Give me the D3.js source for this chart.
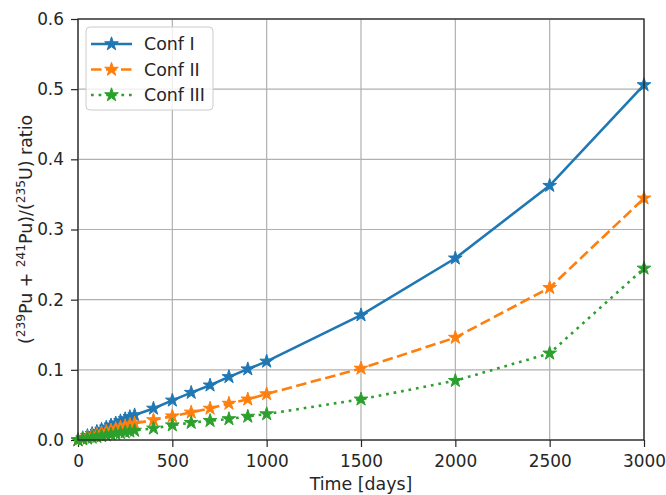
<!DOCTYPE html>
<html>
<head>
<meta charset="utf-8">
<script src="https://cdn.jsdelivr.net/npm/d3@7"></script>
<style>
  html, body { margin: 0; padding: 0; background: #fff; }
  svg text { font-family: "DejaVu Sans", sans-serif; fill: #262626; }
</style>
</head>
<body>
<svg id="chart" width="666" height="495"></svg>
<script>
// Irradiation time steps (days)
const days = [0, 25, 50, 75, 100, 125, 150, 175, 200, 225, 250, 275, 300,
              400, 500, 600, 700, 800, 900, 1000, 1500, 2000, 2500, 3000];

// (Pu-239 + Pu-241) / U-235 ratio per configuration
const confI = [0, 0.003, 0.006, 0.009, 0.012, 0.015, 0.018, 0.021, 0.024, 0.027, 0.030, 0.033, 0.0355,
               0.045, 0.0565, 0.0675, 0.078, 0.090, 0.101, 0.112, 0.178, 0.259, 0.3625, 0.506];
const confII = [0, 0.002, 0.004, 0.006, 0.008, 0.010, 0.012, 0.014, 0.016, 0.018, 0.020, 0.022, 0.0237,
                0.0285, 0.034, 0.0394, 0.045, 0.052, 0.058, 0.0655, 0.102, 0.146, 0.217, 0.3445];
const confIII = [0, 0.0012, 0.0024, 0.0036, 0.0047, 0.0058, 0.0069, 0.008, 0.0091, 0.0102, 0.0113, 0.0124, 0.0135,
                 0.0166, 0.0212, 0.0247, 0.0275, 0.030, 0.0335, 0.037, 0.058, 0.0845, 0.1235, 0.2446];

const seriesNames = ["Conf I", "Conf II", "Conf III"];
const xTicks = [0, 500, 1000, 1500, 2000, 2500, 3000];
const yTicks = [0.0, 0.1, 0.2, 0.3, 0.4, 0.5, 0.6];

const series = [
  { name: seriesNames[0], values: confI,   color: "#1f77b4", dash: null },
  { name: seriesNames[1], values: confII,  color: "#ff7f0e", dash: "10.5,4.5" },
  { name: seriesNames[2], values: confIII, color: "#2ca02c", dash: "2.7,4.9" }
];

const tickFont = 16.9;
const labelFont = 17.4;
const lineWidth = 2.6;

const svg = d3.select("#chart");
const m = { left: 78, right: 644, top: 19, bottom: 440 };

const x = d3.scaleLinear().domain([0, 3000]).range([m.left, m.right]);
const y = d3.scaleLinear().domain([0, 0.6]).range([m.bottom, m.top]);

// grid
const grid = svg.append("g");
grid.selectAll("line.gx").data(xTicks).join("line")
  .attr("x1", d => x(d)).attr("x2", d => x(d))
  .attr("y1", m.top).attr("y2", m.bottom)
  .attr("stroke", "#b0b0b0").attr("stroke-width", 1.2);
grid.selectAll("line.gy").data(yTicks).join("line")
  .attr("y1", d => y(d)).attr("y2", d => y(d))
  .attr("x1", m.left).attr("x2", m.right)
  .attr("stroke", "#b0b0b0").attr("stroke-width", 1.2);

// axes
const xAxis = d3.axisBottom(x).tickValues(xTicks).tickFormat(d3.format("d")).tickSizeOuter(0).tickSize(7).tickPadding(8);
const yAxis = d3.axisLeft(y).tickValues(yTicks).tickFormat(d3.format(".1f")).tickSizeOuter(0).tickSize(7).tickPadding(7);

const gx = svg.append("g").attr("transform", `translate(0,${m.bottom})`).call(xAxis);
const gy = svg.append("g").attr("transform", `translate(${m.left},0)`).call(yAxis);
[gx, gy].forEach(g => {
  g.select(".domain").remove();
  g.selectAll(".tick line").attr("stroke", "#262626").attr("stroke-width", 1.2);
  g.selectAll(".tick text").attr("font-size", tickFont).attr("font-family", "DejaVu Sans").attr("fill", "#262626");
});

// lines and star markers
const line = d3.line().x((d, i) => x(days[i])).y(d => y(d));
const star = d3.symbol().type(d3.symbolStar).size(58);

const plot = svg.append("g");
series.forEach(s => {
  plot.append("path")
    .attr("d", line(s.values))
    .attr("fill", "none")
    .attr("stroke", s.color)
    .attr("stroke-width", lineWidth)
    .attr("stroke-dasharray", s.dash);
  plot.append("g").selectAll("path").data(s.values).join("path")
    .attr("transform", (d, i) => `translate(${x(days[i])},${y(d)})`)
    .attr("d", star)
    .attr("fill", s.color)
    .attr("stroke", s.color)
    .attr("stroke-width", 1);
});

// frame
svg.append("rect")
  .attr("x", m.left).attr("y", m.top)
  .attr("width", m.right - m.left).attr("height", m.bottom - m.top)
  .attr("fill", "none").attr("stroke", "#262626").attr("stroke-width", 1.3);

// axis titles
svg.append("text")
  .attr("x", (m.left + m.right) / 2).attr("y", 490)
  .attr("text-anchor", "middle").attr("font-size", labelFont)
  .text("Time [days]");

const yl = svg.append("text")
  .attr("transform", `translate(32,${(m.top + m.bottom) / 2}) rotate(-90)`)
  .attr("text-anchor", "middle").attr("font-size", labelFont);
const supSize = 12.2, supRise = 7;
yl.append("tspan").text("(");
yl.append("tspan").attr("font-size", supSize).attr("dy", -supRise).text("239");
yl.append("tspan").attr("dy", supRise).text("Pu + ");
yl.append("tspan").attr("font-size", supSize).attr("dy", -supRise).text("241");
yl.append("tspan").attr("dy", supRise).text("Pu)/(");
yl.append("tspan").attr("font-size", supSize).attr("dy", -supRise).text("235");
yl.append("tspan").attr("dy", supRise).text("U) ratio");

// legend
const lg = svg.append("g");
lg.append("rect")
  .attr("x", 86).attr("y", 27).attr("width", 127).attr("height", 83).attr("rx", 4)
  .attr("fill", "#fff").attr("fill-opacity", 0.8)
  .attr("stroke", "#cccccc").attr("stroke-width", 1);
series.forEach((s, i) => {
  const yy = 44 + i * 25.5;
  lg.append("line")
    .attr("x1", 91).attr("x2", 132).attr("y1", yy).attr("y2", yy)
    .attr("stroke", s.color).attr("stroke-width", lineWidth)
    .attr("stroke-dasharray", s.dash);
  lg.append("path")
    .attr("transform", `translate(111.5,${yy})`)
    .attr("d", star).attr("fill", s.color).attr("stroke", s.color).attr("stroke-width", 1);
  lg.append("text")
    .attr("x", 144).attr("y", yy + 6.3)
    .attr("font-size", labelFont)
    .text(s.name);
});
</script>
</body>
</html>
